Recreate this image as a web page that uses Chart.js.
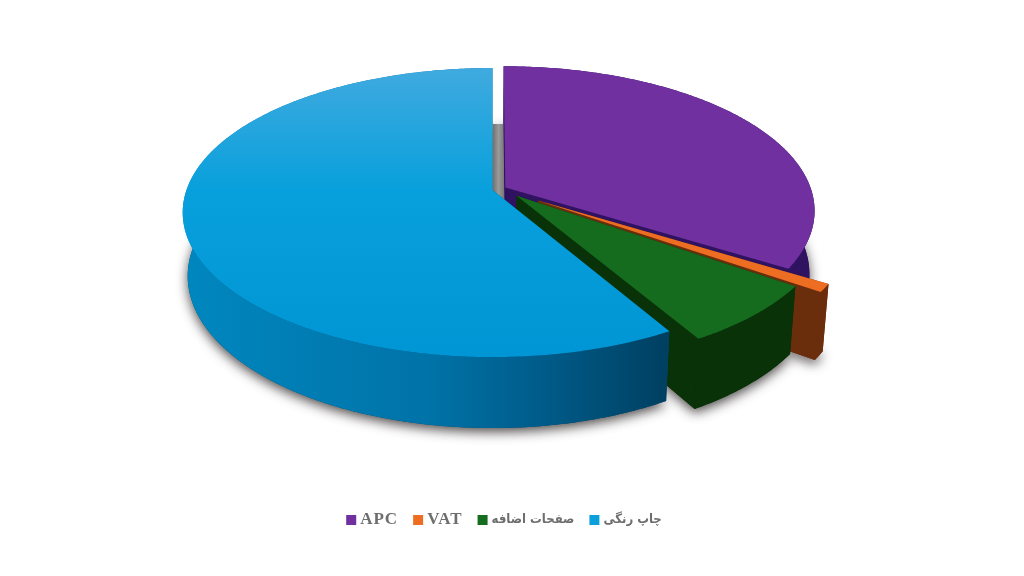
<!DOCTYPE html>
<html><head><meta charset="utf-8">
<style>html,body{margin:0;padding:0;background:#fff}canvas{display:block}</style>
<script src="https://cdn.jsdelivr.net/npm/chart.js@4"></script>
</head><body><canvas id="c" width="1024" height="576"></canvas>
<script>
const categories = ['APC', 'VAT', 'صفحات اضافه', 'چاپ رنگی'];
const shares = [33.9, 0.9, 6.87, 58.33];
const legendColors = ['#7030A0', '#ED6D23', '#156B1E', '#0BA0DC'];
const faceColors = ['#2F1260', '#6B2E0C', '#0A3208', '#004A70'];
const explodeU = [0.042, 0.147, 0.078, 0];
const explodeV = [-0.017, 0.073, 0.04, 0];
const legendFonts = ['bold 17px "Liberation Serif"', 'bold 17px "Liberation Serif"',
                     'bold 13px "DejaVu Sans Condensed"', 'bold 13px "DejaVu Sans Condensed"'];
const legendSpacing = ['1px', '1px', '0px', '0px'];

const view = { dx: -19.5, dy: -98, perspective: 0.156, sink: 0.016, squash: 0.4608, depth: 63.7 };

function project(arc, i, a, r, z) {
  const u = r * Math.cos(a) + explodeU[i], v = r * Math.sin(a) + explodeV[i];
  const w = 1 - view.perspective * v + view.sink * z;
  const R = arc.outerRadius;
  return [arc.x + view.dx + R * u / w,
          arc.y + view.dy + (R * view.squash * v + view.depth * z) / w];
}
function rim(arc, i, z, reverse) {
  const a0 = arc.startAngle, a1 = arc.endAngle, pts = [];
  const n = Math.max(2, Math.ceil((a1 - a0) * 90));
  for (let k = 0; k <= n; k++) pts.push(project(arc, i, a0 + (a1 - a0) * k / n, 1, z));
  return reverse ? pts.reverse() : pts;
}
function poly(ctx, pts, fill) {
  ctx.beginPath();
  pts.forEach((p, k) => k ? ctx.lineTo(p[0], p[1]) : ctx.moveTo(p[0], p[1]));
  ctx.closePath();
  ctx.fillStyle = fill;
  ctx.fill();
}
const pie3d = {
  id: 'pie3d',
  beforeDatasetsDraw(chart) {
    const ctx = chart.ctx, arcs = chart.getDatasetMeta(0).data;
    ctx.save();
    // soft ground shadow
    ctx.shadowColor = 'rgba(50,45,45,0.85)';
    ctx.shadowBlur = 12;
    ctx.shadowOffsetX = 0;
    ctx.shadowOffsetY = 4;
    arcs.forEach((arc, i) => {
      poly(ctx, [project(arc, i, arc.startAngle, 0, 1), ...rim(arc, i, 1)], faceColors[i]);
    });
    ctx.restore();
    ctx.save();
    // gray floor seen through the gap between the first and last slice
    const p = (u, v) => {
      const w = 1 - view.perspective * v + view.sink;
      const a = arcs[0];
      return [a.x + view.dx + a.outerRadius * u / w, a.y + view.dy + (a.outerRadius * view.squash * v + view.depth) / w];
    };
    const q = [p(0, -1), p(explodeU[0], -1), p(explodeU[0], 0), p(0, 0)];
    const g = ctx.createLinearGradient(q[0][0], 0, q[1][0], 0);
    g.addColorStop(0, '#6E6E6E'); g.addColorStop(0.55, '#9A9A9A'); g.addColorStop(1, '#7C7C7C');
    poly(ctx, q, g);
    arcs.forEach((arc, i) => {
      const apexT = project(arc, i, arc.startAngle, 0, 0), apexB = project(arc, i, arc.startAngle, 0, 1);
      [arc.startAngle, arc.endAngle].forEach(a => {
        poly(ctx, [apexT, project(arc, i, a, 1, 0), project(arc, i, a, 1, 1), apexB], faceColors[i]);
      });
      let wall = faceColors[i];
      if (i === 3) {
        const w = ctx.createLinearGradient(185, 0, 670, 0);
        w.addColorStop(0, '#0087BF'); w.addColorStop(0.5, '#0073A8');
        w.addColorStop(0.78, '#005783'); w.addColorStop(1, '#003F60');
        wall = w;
      }
      poly(ctx, [...rim(arc, i, 0), ...rim(arc, i, 1, true)], wall);
      let top = legendColors[i];
      if (i === 3) {
        const t = ctx.createLinearGradient(0, 68, 0, 357);
        t.addColorStop(0, '#40AADF'); t.addColorStop(0.42, '#08A0DC'); t.addColorStop(1, '#0095D4');
        top = t;
      }
      poly(ctx, [apexT, ...rim(arc, i, 0)], top);
    });
    ctx.restore();
    return false;
  },
  afterDraw(chart) {
    const ctx = chart.ctx, labels = chart.data.labels;
    const box = 10, gap = 4, sep = 15, midX = 504, midY = 520;
    ctx.save();
    ctx.textBaseline = 'middle';
    ctx.textAlign = 'left';
    const widths = labels.map((t, i) => {
      ctx.font = legendFonts[i]; ctx.letterSpacing = legendSpacing[i];
      return ctx.measureText(t).width;
    });
    let x = midX - (widths.reduce((a, b) => a + b, 0) + labels.length * (box + gap) + (labels.length - 1) * sep) / 2;
    labels.forEach((t, i) => {
      ctx.fillStyle = legendColors[i];
      ctx.fillRect(x, midY - box / 2, box, box);
      ctx.fillStyle = '#6E6E6E';
      ctx.font = legendFonts[i];
      ctx.letterSpacing = legendSpacing[i];
      ctx.fillText(t, x + box + gap, midY);
      x += box + gap + widths[i] + sep;
    });
    ctx.restore();
  }
};
new Chart(document.getElementById('c'), {
  type: 'pie',
  data: { labels: categories, datasets: [{ data: shares, backgroundColor: legendColors, borderWidth: 0 }] },
  options: {
    responsive: false, animation: false, radius: 306,
    plugins: { tooltip: { enabled: false }, legend: { display: false } }
  },
  plugins: [pie3d]
});
</script></body></html>
